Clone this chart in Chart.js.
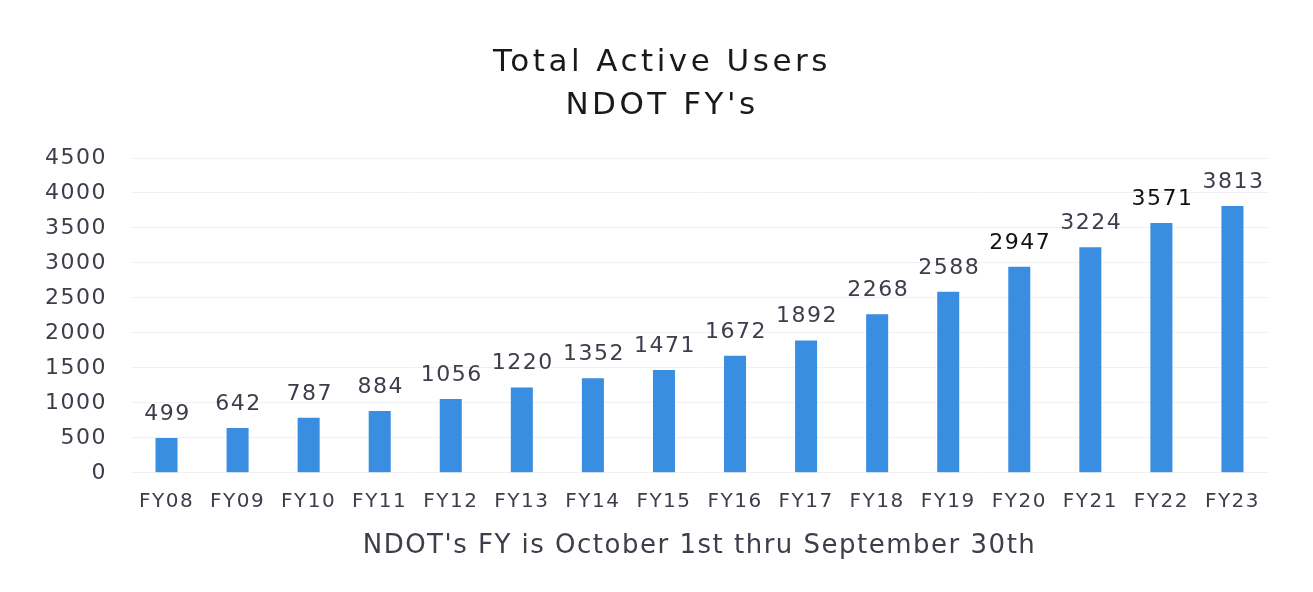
<!DOCTYPE html>
<html>
<head>
<meta charset="utf-8">
<script src="https://cdn.jsdelivr.net/npm/chart.js@4"></script>
<style>
  body { margin: 0; background: #fff; }
  #wrap { width: 1313px; height: 592px; }
</style>
</head>
<body>
<div id="wrap"><canvas id="graph"></canvas></div>
<script>
const years = ["FY08", "FY09", "FY10", "FY11", "FY12", "FY13", "FY14", "FY15",
               "FY16", "FY17", "FY18", "FY19", "FY20", "FY21", "FY22", "FY23"];
const activeUsers = [499, 642, 787, 884, 1056, 1220, 1352, 1471,
                     1672, 1892, 2268, 2588, 2947, 3224, 3571, 3813];
const yTicks = [0, 500, 1000, 1500, 2000, 2500, 3000, 3500, 4000, 4500];
const titleLines = ['Total Active Users', "NDOT FY's"];
const axisNote = "NDOT's FY is October 1st thru September 30th";

const FONT = 'DejaVu Sans';

// the original text is set very wide, so space the letters out a bit
const wideText = {
    id: 'wideText',
    beforeUpdate(chart) { chart.ctx.letterSpacing = '1.5px'; },
    beforeDraw(chart) { chart.ctx.letterSpacing = '1.5px'; }
};

// two line title, drawn by hand so it can get its own spacing
const bigTitle = {
    id: 'bigTitle',
    afterDraw(chart) {
        const ctx = chart.ctx;
        ctx.save();
        ctx.letterSpacing = '3.5px';
        ctx.font = `31px "${FONT}"`;
        ctx.fillStyle = '#1a1a1a';
        ctx.textAlign = 'center';
        ctx.textBaseline = 'middle';
        ctx.fillText(titleLines[0], 662, 63);
        ctx.fillText(titleLines[1], 662, 106);
        ctx.restore();
    }
};

// value labels above each bar
const barLabels = {
    id: 'barLabels',
    afterDatasetsDraw(chart) {
        const ctx = chart.ctx;
        const meta = chart.getDatasetMeta(0);
        ctx.save();
        ctx.font = `22px "${FONT}"`;
        ctx.textAlign = 'center';
        ctx.textBaseline = 'alphabetic';
        meta.data.forEach((bar, i) => {
            ctx.fillStyle = (i === 12 || i === 14) ? '#111111' : '#3d3d4b';
            ctx.fillText(activeUsers[i], bar.x + 1, bar.y - 18);
        });
        ctx.restore();
    }
};

const ctx = document.getElementById("graph").getContext("2d");
const usersChart = new Chart(ctx, {
    type: "bar",
    data: {
        labels: years,
        datasets: [{
            label: 'Total Active Users',
            data: activeUsers,
            backgroundColor: '#3a8ee2',
            barPercentage: 0.62,
            categoryPercentage: 0.5
        }]
    },
    options: {
        responsive: true,
        maintainAspectRatio: false,
        animation: false,
        layout: { padding: { top: 158, left: 21, right: 45, bottom: 26 } },
        plugins: {
            legend: { display: false },
            tooltip: { enabled: false },
            title: { display: false }
        },
        scales: {
            x: {
                grid: { display: false, drawTicks: false },
                border: { display: false },
                ticks: {
                    color: '#3d3d4b',
                    font: { family: FONT, size: 20 },
                    padding: 17,
                    maxRotation: 0
                },
                title: {
                    display: true,
                    text: axisNote,
                    color: '#3d3d4b',
                    font: { family: FONT, size: 26 },
                    padding: { top: 0, bottom: 4 }
                }
            },
            y: {
                min: 0,
                max: 4500,
                afterBuildTicks(axis) {
                    axis.ticks = yTicks.map(v => ({ value: v }));
                },
                grid: { color: '#f1f1f1', drawTicks: false },
                border: { display: false },
                ticks: {
                    color: '#3d3d4b',
                    font: { family: FONT, size: 22 },
                    padding: 24,
                    callback: v => String(v)
                }
            }
        }
    },
    plugins: [wideText, barLabels, bigTitle]
});
</script>
</body>
</html>
